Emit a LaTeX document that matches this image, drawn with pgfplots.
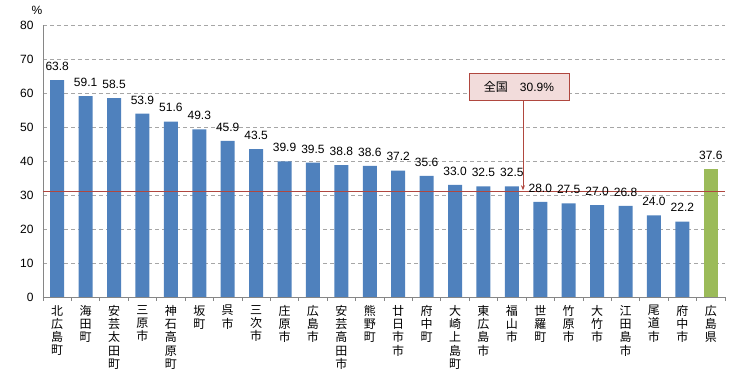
\documentclass[border=0pt]{standalone}
\usepackage{fontspec}
\setmainfont{Liberation Sans}
\newfontfamily\cjk{Noto Sans CJK JP}
\usepackage{pgfplots}
\usetikzlibrary{arrows.meta}
\pgfplotsset{compat=1.18}
\definecolor{barblue}{HTML}{4F81BD}
\definecolor{bargreen}{HTML}{9BBB59}
\definecolor{natred}{HTML}{B0473F}
\definecolor{boxfill}{HTML}{F2DCDB}
\definecolor{axgray}{HTML}{868686}
\begin{document}
\begin{tikzpicture}
\useasboundingbox (-43pt,-82pt) rectangle (713pt,297pt);
\begin{axis}[
  at={(0,0)}, anchor=south west,
  width=682pt, height=272pt, scale only axis,
  xmin=-0.5, xmax=23.5, ymin=0, ymax=80,
  ytick={0,10,...,80},
  xtick={0,...,23},
  minor xtick={-0.5,0.5,...,23.5},
  xticklabels={{北\\広\\島\\町},{海\\田\\町},{安\\芸\\太\\田\\町},{三\\原\\市},{神\\石\\高\\原\\町},{坂\\町},{呉\\市},{三\\次\\市},{庄\\原\\市},{広\\島\\市},{安\\芸\\高\\田\\市},{熊\\野\\町},{廿\\日\\市\\市},{府\\中\\町},{大\\崎\\上\\島\\町},{東\\広\\島\\市},{福\\山\\市},{世\\羅\\町},{竹\\原\\市},{大\\竹\\市},{江\\田\\島\\市},{尾\\道\\市},{府\\中\\市},{広\\島\\県}},
  xticklabel style={font=\cjk\fontsize{12}{13.3}\selectfont, align=center, inner sep=0pt, yshift=-8pt},
  yticklabel style={font=\fontsize{12}{14}\selectfont, xshift=-6pt},
  /pgf/number format/assume math mode=true,
  axis x line*=bottom, axis y line*=left,
  axis line style={axgray, line width=0.8pt},
  major tick length=0pt,
  minor tick length=4pt,
  tick align=inside,
  minor tick style={axgray, line width=0.8pt},
  ymajorgrids,
  major grid style={dashed, dash pattern=on 4pt off 3pt, gray!70, line width=0.6pt},
  ybar, bar width=14pt,
  nodes near coords={\pgfmathprintnumber[fixed,fixed zerofill,precision=1]{\pgfplotspointmeta}},
  every node near coord/.append style={font=\fontsize{12}{14}\selectfont, black, yshift=6pt},
  clip=false,
]
\addplot[fill=barblue, draw=none, bar shift=0pt] coordinates {
(0,63.8) (1,59.1) (2,58.5) (3,53.9) (4,51.6) (5,49.3) (6,45.9) (7,43.5)
(8,39.9) (9,39.5) (10,38.8) (11,38.6) (12,37.2) (13,35.6) (14,33.0) (15,32.5)
(16,32.5) (17,28.0) (18,27.5) (19,27.0) (20,26.8) (21,24.0) (22,22.2)};
\addplot[fill=bargreen, draw=none, bar shift=0pt] coordinates {(23,37.6)};
\addplot[sharp plot, natred, line width=1pt, nodes near coords={}, forget plot] coordinates {(-0.5,30.9) (23.5,30.9)};
\draw[natred, line width=0.8pt, -{Stealth[length=5pt,width=4pt]}] (axis cs:16.39,57.9) -- (axis cs:16.39,31.4);
\node[draw=natred, fill=boxfill, line width=0.8pt, minimum width=100pt, minimum height=27pt, inner sep=0pt, font=\fontsize{12}{14}\selectfont] at (axis cs:16.25,61.9) {{\cjk 全国}\quad 30.9\%};
\node[font=\fontsize{12}{14}\selectfont] at (axis cs:-0.5,80) [xshift=-6pt, yshift=15pt] {\%};
\end{axis}
\end{tikzpicture}
\end{document}
